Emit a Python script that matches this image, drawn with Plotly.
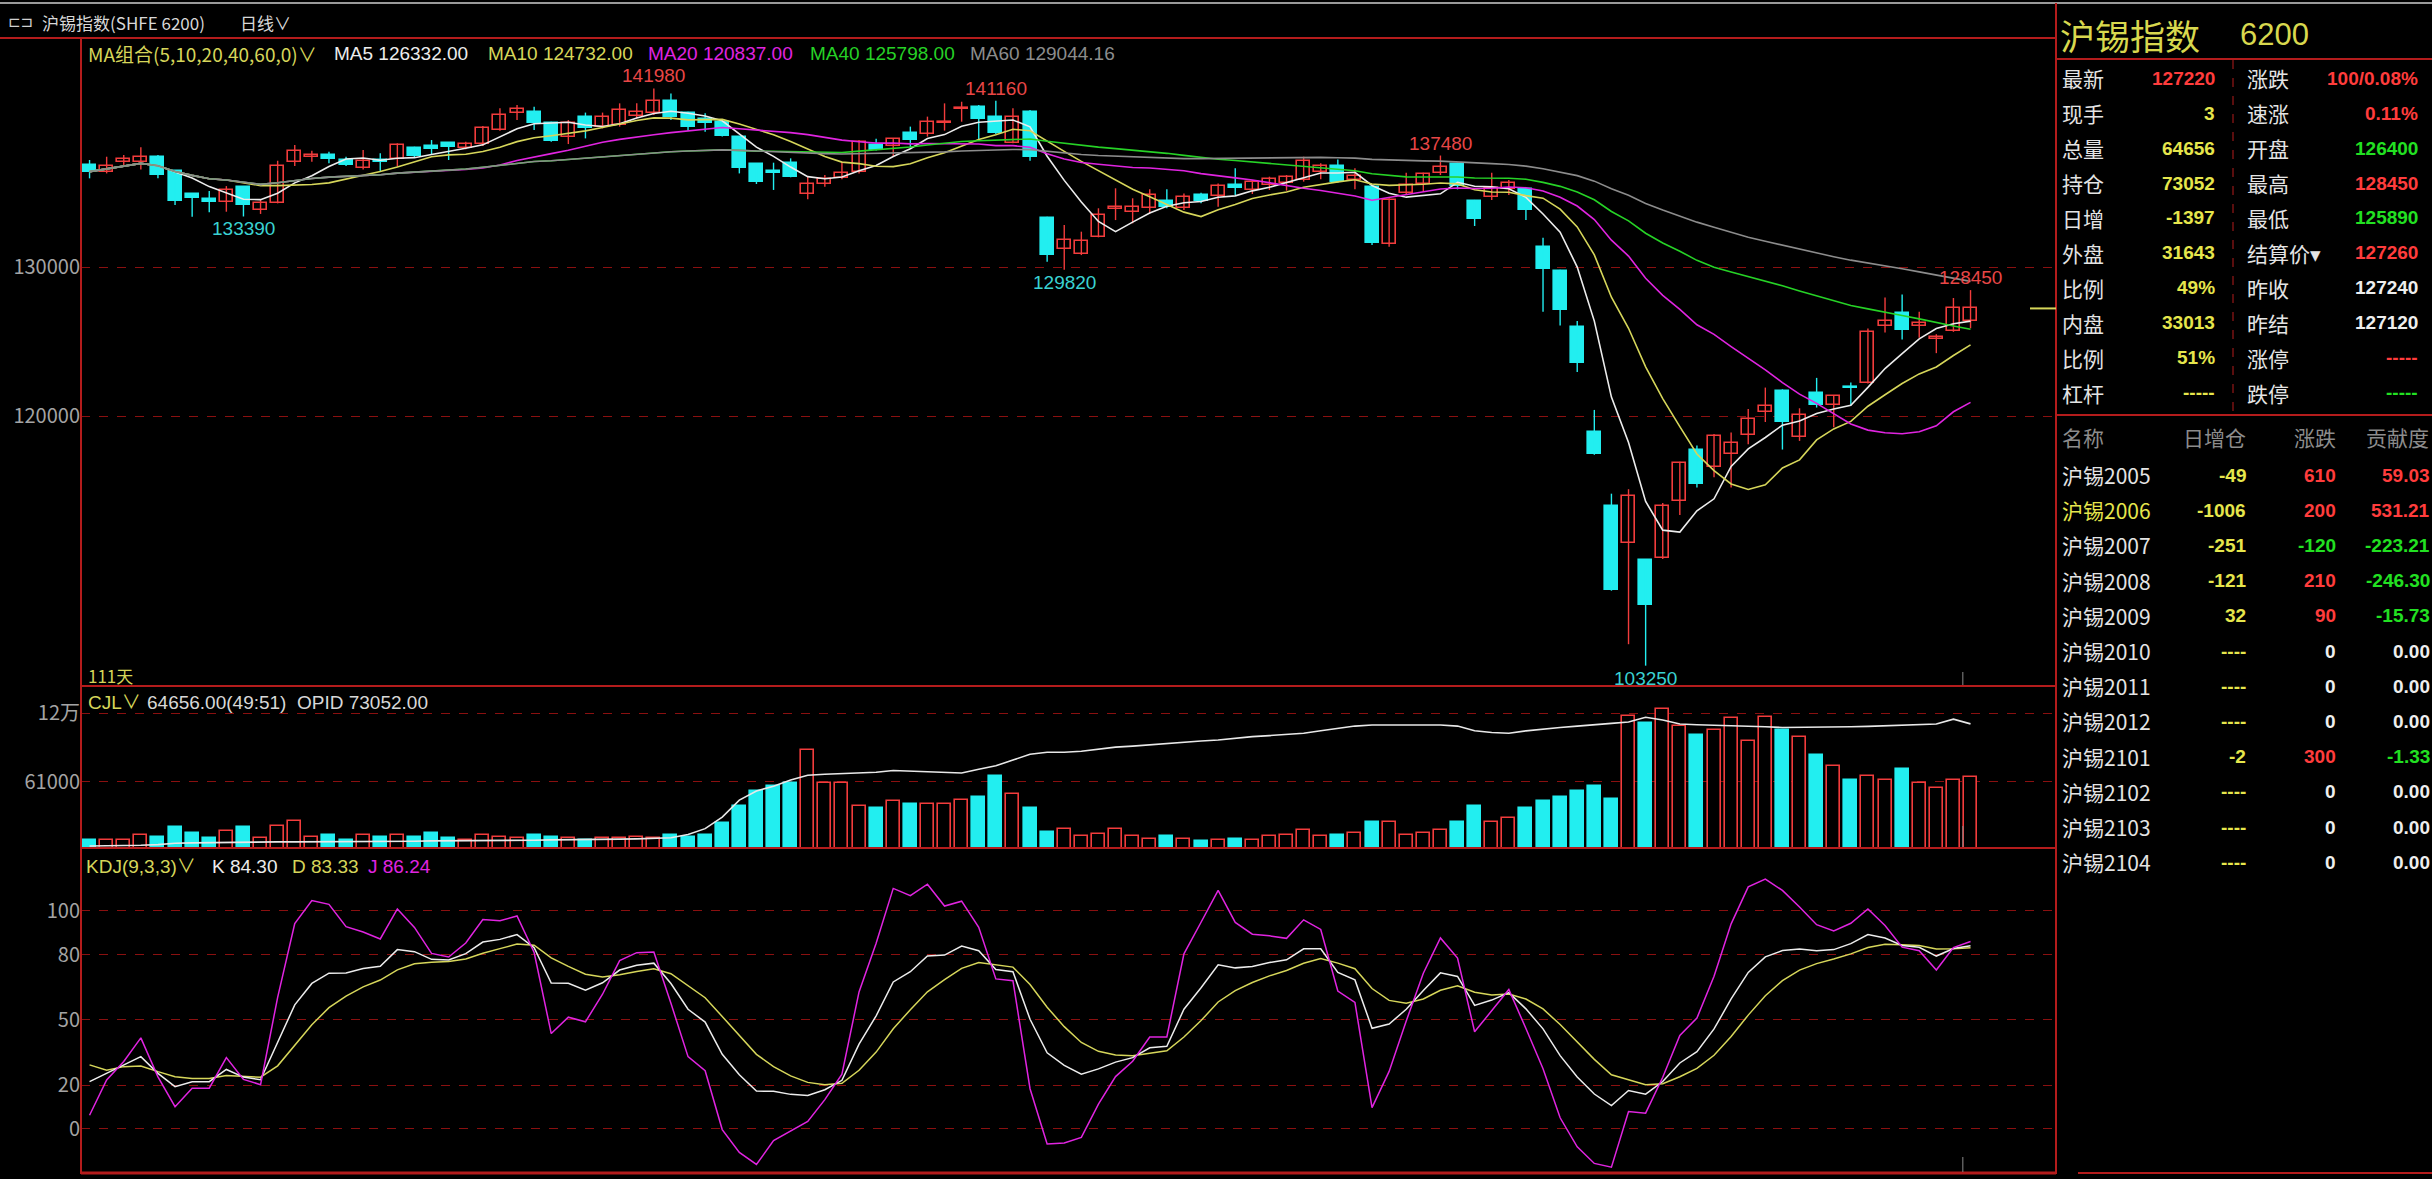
import plotly.graph_objects as go
import numpy as np
import pandas as pd

W, H = 2432, 1179

# ---------------- data ----------------
opens = [
    136840, 136400, 137070, 137070, 137400, 136440, 134880, 134540, 134380, 135390,
    133820, 134320, 137070, 137380, 137540, 137180, 136620, 137180, 137220, 137960,
    138120, 138300, 138010, 138230, 139190, 140310, 140420, 139640, 138750, 140090,
    139420, 139530, 140130, 140310, 141160, 140310, 139910, 139750, 138700, 136890,
    136440, 137000, 134900, 135570, 135950, 136400, 138190, 138120, 138970, 138920,
    139640, 140580, 140760, 140090, 138340, 140420, 133260, 131180, 130870, 132030,
    133870, 133710, 133940, 134450, 133940, 134830, 134760, 135500, 135170, 135500,
    135610, 135840, 136400, 136780, 135840, 135350, 131540, 134990, 135570, 136290,
    136910, 134450, 134670, 135210, 135210, 131310, 129760, 125950, 118900, 113940,
    111510, 110310, 110470, 114330, 117700, 116550, 117470, 118720, 120240, 121680,
    118560, 121560, 120710, 121950, 122250, 126020, 126920, 126020, 125190, 125720,
    126400]
highs = [
    137180, 137400, 137520, 138030, 137520, 136510, 134940, 135100, 135430, 135430,
    134500, 137130, 138190, 137800, 137740, 137400, 137850, 137630, 138300, 138070,
    138520, 138340, 138410, 139460, 140650, 140870, 140760, 139750, 139860, 140360,
    140360, 140980, 140980, 141980, 141650, 140420, 140310, 139910, 138790, 136960,
    137000, 137290, 136060, 136170, 137070, 138520, 138610, 138630, 139420, 140090,
    140980, 141090, 140870, 141160, 140650, 140540, 133380, 132820, 132370, 133940,
    135280, 134610, 135210, 135210, 134940, 134990, 135610, 136620, 135840, 136060,
    136170, 137400, 136960, 137220, 136620, 135440, 134610, 136330, 136330, 137480,
    137000, 134500, 136330, 135840, 135280, 131960, 129810, 126370, 120410, 114790,
    115090, 110360, 114170, 116940, 118030, 118790, 118900, 120480, 121910, 121790,
    120520, 122560, 121400, 122250, 125880, 127960, 128150, 126990, 125490, 127920,
    128450]
lows = [
    135950, 136280, 136730, 136550, 135950, 134160, 133380, 133670, 133710, 133390,
    133560, 134270, 136780, 137070, 136960, 136780, 136550, 136400, 136730, 137360,
    137520, 137180, 137900, 138120, 139150, 139860, 139190, 138410, 138250, 138630,
    139300, 139420, 139980, 140200, 139860, 139150, 139080, 138750, 136280, 135570,
    135170, 136020, 134540, 135390, 135880, 136280, 137810, 137400, 138030, 138750,
    139150, 139750, 138520, 138920, 138300, 137130, 130360, 129820, 130800, 131990,
    133150, 132930, 133600, 133940, 133820, 134270, 134050, 134830, 134900, 135170,
    135120, 135730, 135880, 135660, 135210, 131480, 131360, 134830, 135050, 136170,
    135210, 132750, 134500, 134830, 133150, 126990, 126070, 122950, 117400, 108280,
    104690, 103250, 110400, 113360, 115210, 115900, 115210, 118100, 119600, 117750,
    118330, 120570, 119250, 120710, 122190, 125610, 125140, 125260, 124220, 125650,
    125890]
closes = [
    136400, 136780, 137220, 137400, 136170, 134450, 134610, 134340, 135170, 134160,
    134320, 136780, 137800, 137540, 137270, 136840, 137110, 137070, 138190, 137470,
    137900, 138030, 138230, 139350, 140200, 140580, 139680, 138450, 139640, 139300,
    140090, 140540, 140420, 141160, 140040, 139420, 139640, 138790, 136620, 135730,
    136330, 136060, 135570, 135900, 136330, 138410, 137850, 138570, 138520, 139750,
    139730, 140650, 139910, 139010, 140040, 137400, 130800, 131810, 131770, 133490,
    134000, 134000, 134830, 134050, 134670, 134430, 135440, 135280, 135730, 135880,
    136020, 137140, 136780, 135730, 136110, 131590, 134500, 135500, 136240, 136730,
    135440, 133200, 135280, 135610, 133820, 129880, 127110, 123570, 117470, 108320,
    114630, 107350, 113940, 116830, 115440, 118670, 118210, 119830, 120640, 119600,
    120060, 120750, 121330, 121860, 125610, 126370, 125790, 126250, 125330, 127240,
    127220]
volumes = [
    10700, 10700, 10700, 15000, 13500, 22200, 16700, 12400, 18700, 22200,
    12400, 23000, 27100, 13500, 15000, 10700, 15000, 13500, 15000, 13500,
    16700, 12400, 10700, 15000, 13500, 12400, 15000, 13500, 12400, 10700,
    12400, 12400, 13500, 12400, 15000, 13500, 15000, 25000, 40000, 53000,
    57000, 60000, 88000, 60000, 60000, 40000, 38000, 44000, 42000, 42000,
    42000, 45000, 48000, 66000, 50000, 38000, 18000, 20000, 14000, 16000,
    20000, 14000, 12000, 14000, 12000, 10000, 11000, 12000, 11000, 14000,
    15000, 19000, 14000, 15000, 17000, 26000, 26000, 15000, 17000, 19000,
    26000, 40000, 26000, 30000, 38000, 44000, 48000, 53000, 57000, 46000,
    118000, 112000, 124000, 109000, 101000, 106000, 116000, 96000, 117000, 106000,
    100000, 84000, 74500, 62500, 66000, 62500, 71700, 59800, 55600, 62500,
    64656]
open_interest = [
    37100, 37100, 37200, 37300, 37500, 37900, 38000, 38100, 38100, 38200,
    38200, 38300, 38300, 38300, 38400, 38400, 38400, 38500, 38500, 38500,
    38600, 38600, 38600, 38700, 38700, 38800, 38800, 38900, 38900, 39000,
    39000, 39100, 39200, 39300, 39500, 40500, 42200, 45600, 50600, 53300,
    54700, 56500, 57900, 58200, 58400, 58500, 58800, 59300, 59100, 59000,
    58700, 58600, 59700, 60700, 62400, 64100, 64700, 64700, 65000, 65600,
    66200, 66500, 66900, 67400, 67700, 68000, 68300, 68900, 69300, 69600,
    69900, 70300, 71000, 71800, 72400, 72700, 72700, 72700, 72800, 72700,
    72400, 71000, 70500, 70300, 71000, 71600, 72000, 72400, 72700, 73200,
    73600, 75000, 74200, 73000, 72800, 72700, 72600, 72400, 72200, 72000,
    72000, 72100, 72100, 72200, 72300, 72500, 72600, 72800, 73000, 74449,
    73052]

ma_periods = [5, 10, 20, 40, 60]
ma_header_values = ["126332.00", "124732.00", "120837.00", "125798.00", "129044.16"]
# K and D for the first 8 days (their 9-day window reaches before the visible data)
kdj_head_k = [21.7, 25.5, 29.4, 33.2, 25.5, 19.4, 21.7, 21.7]
kdj_head_d = [29.4, 27.0, 28.6, 28.9, 26.3, 24.0, 23.2, 23.2]
kdj_header_values = ["84.30", "83.33", "86.24"]
cjl_header = "64656.00(49:51)  OPID 73052.00"

high_label_idx = [33, 53, 79, 110]
low_label_idx = [9, 57, 91]

price_ticks = [120000, 130000]
vol_ticks = [61000, 120000]
vol_ticktext = ["61000", "12万"]
kdj_ticks = [0, 20, 50, 80, 100]

quote_title = ["沪锡指数", "6200"]
quote_left_labels = ["最新", "现手", "总量", "持仓", "日增", "外盘", "比例", "内盘", "比例", "杠杆"]
quote_left_values = ["127220", "3", "64656", "73052", "-1397", "31643", "49%", "33013", "51%", "-----"]
quote_left_colors = ["red", "yellow", "yellow", "yellow", "yellow", "yellow", "yellow", "yellow", "yellow", "yellow"]
quote_right_labels = ["涨跌", "速涨", "开盘", "最高", "最低", "结算价▾", "昨收", "昨结", "涨停", "跌停"]
quote_right_values = ["100/0.08%", "0.11%", "126400", "128450", "125890", "127260", "127240", "127120", "-----", "-----"]
quote_right_colors = ["red", "red", "green", "red", "green", "red", "white", "white", "red", "green"]

table_header = ["名称", "日增仓", "涨跌", "贡献度"]
table_names = ["沪锡2005", "沪锡2006", "沪锡2007", "沪锡2008", "沪锡2009", "沪锡2010",
               "沪锡2011", "沪锡2012", "沪锡2101", "沪锡2102", "沪锡2103", "沪锡2104"]
table_oi_change = ["-49", "-1006", "-251", "-121", "32", "----", "----", "----", "-2", "----", "----", "----"]
table_change = ["610", "200", "-120", "210", "90", "0", "0", "0", "300", "0", "0", "0"]
table_contrib = ["59.03", "531.21", "-223.21", "-246.30", "-15.73", "0.00", "0.00", "0.00", "-1.33", "0.00", "0.00", "0.00"]

# ---------------- styles ----------------
RED = "#f23c3c"
CYAN = "#22eef0"
GRID = "#8a1010"
BORDER = "#b41c1c"
COL = {"red": "#ff3c3c", "yellow": "#e6e64c", "green": "#22e022", "white": "#eeeeee"}
MA_COLORS = ["#ececec", "#d6d65a", "#e024e0", "#26d226", "#8c8c8c"]
FONT = "Liberation Sans, Noto Sans CJK SC, sans-serif"
CJK = "Noto Sans CJK SC, Liberation Sans, sans-serif"

n = len(closes)
x = list(range(n))
up = [closes[i] >= opens[i] for i in x]

fig = go.Figure()

# ---------------- candles ----------------
for is_up, color in [(True, RED), (False, CYAN)]:
    wx, wy = [], []
    for i in x:
        if up[i] == is_up:
            wx += [i, i, None]
            wy += [lows[i], highs[i], None]
    fig.add_trace(go.Scatter(x=wx, y=wy, mode="lines", line=dict(color=color, width=1.4),
                             xaxis="x", yaxis="y", hoverinfo="skip"))
    idx = [i for i in x if up[i] == is_up]
    base = [min(opens[i], closes[i]) for i in idx]
    hgt = [max(abs(closes[i] - opens[i]), 60) for i in idx]
    fig.add_trace(go.Bar(x=idx, y=hgt, base=base, width=0.76,
                         marker=dict(color="black" if is_up else color, line=dict(color=color, width=1.6)),
                         xaxis="x", yaxis="y"))

# moving averages
cs = pd.Series(closes, dtype=float)
for p, c in zip(ma_periods, MA_COLORS):
    fig.add_trace(go.Scatter(x=x, y=cs.rolling(p, min_periods=1).mean(), mode="lines",
                             line=dict(color=c, width=1.6), xaxis="x", yaxis="y"))

# high / low labels
for i in high_label_idx:
    fig.add_annotation(x=i, y=highs[i], xref="x", yref="y", text=str(highs[i]), showarrow=False,
                       yanchor="bottom", font=dict(color="#e84646", size=19, family=FONT))
for i in low_label_idx:
    fig.add_annotation(x=i, y=lows[i], xref="x", yref="y", text=str(lows[i]), showarrow=False,
                       yanchor="top", font=dict(color="#3ad2d2", size=19, family=FONT))

# ---------------- volume ----------------
for is_up, color in [(True, RED), (False, CYAN)]:
    idx = [i for i in x if up[i] == is_up]
    fig.add_trace(go.Bar(x=idx, y=[volumes[i] for i in idx], width=0.76,
                         marker=dict(color="black" if is_up else color, line=dict(color=color, width=1.6)),
                         xaxis="x2", yaxis="y2"))
fig.add_trace(go.Scatter(x=x, y=open_interest, mode="lines", line=dict(color="#e8e8e8", width=1.6),
                         xaxis="x2", yaxis="y4"))

# ---------------- KDJ ----------------
hh = pd.Series(highs, dtype=float).rolling(9, min_periods=1).max().values
ll = pd.Series(lows, dtype=float).rolling(9, min_periods=1).min().values
rsv = (np.array(closes) - ll) / (hh - ll) * 100
K = np.zeros(n)
D = np.zeros(n)
m = len(kdj_head_k)
K[:m] = kdj_head_k
D[:m] = kdj_head_d
for i in range(m, n):
    K[i] = (2 * K[i - 1] + rsv[i]) / 3
    D[i] = (2 * D[i - 1] + K[i]) / 3
J = 3 * K - 2 * D
for arr, c in [(D, "#d6d65a"), (K, "#ececec"), (J, "#e024e0")]:
    fig.add_trace(go.Scatter(x=x, y=arr, mode="lines", line=dict(color=c, width=1.5),
                             xaxis="x3", yaxis="y3"))

# ---------------- axes ----------------
def py(v):
    return 1 - v / H

xdom = [81 / W, 2055 / W]
xr = [-0.5, 114.94]
tickfont = dict(size=20, color="#a4a4a4", family=CJK)
yax_common = dict(showgrid=True, gridcolor=GRID, griddash="dash", gridwidth=1, zeroline=False,
                  showline=False, ticks="", tickfont=tickfont, automargin=False, fixedrange=True)
fig.update_layout(
    width=W, height=H, margin=dict(l=0, r=0, t=0, b=0),
    paper_bgcolor="black", plot_bgcolor="black", showlegend=False, barmode="overlay",
    bargap=0,
    xaxis=dict(domain=xdom, range=xr, visible=False, anchor="y"),
    xaxis2=dict(domain=xdom, range=xr, visible=False, anchor="y2", matches="x"),
    xaxis3=dict(domain=xdom, range=xr, visible=False, anchor="y3", matches="x"),
    yaxis=dict(domain=[py(686), py(38)], range=[101885, 145366], tickvals=price_ticks,
               ticktext=[str(v) for v in price_ticks], anchor="x", **yax_common),
    yaxis2=dict(domain=[py(848), py(686)], range=[3800, 143600], tickvals=vol_ticks,
                ticktext=vol_ticktext, anchor="x2", **yax_common),
    yaxis3=dict(domain=[py(1173), py(848)], range=[-20.2, 128.9], tickvals=kdj_ticks,
                ticktext=[str(v) for v in kdj_ticks], anchor="x3", **yax_common),
    yaxis4=dict(domain=[py(848), py(686)], range=[36500, 84200], overlaying="y2", visible=False,
                anchor="x2"),
)

# ---------------- frame lines ----------------
def hline(y0, xa, xb, color=BORDER, width=2, dash=None):
    fig.add_shape(type="line", xref="paper", yref="paper", x0=xa / W, x1=xb / W, y0=py(y0), y1=py(y0),
                  line=dict(color=color, width=width, dash=dash))

def vline(x0, ya, yb, color=BORDER, width=2, dash=None):
    fig.add_shape(type="line", xref="paper", yref="paper", x0=x0 / W, x1=x0 / W, y0=py(ya), y1=py(yb),
                  line=dict(color=color, width=width, dash=dash))

hline(3, 0, W, color="#9a9a9a", width=2)
hline(38, 0, 2056)
hline(686, 81, 2056)
hline(848, 81, 2056)
hline(1173, 81, 2056, width=3)
vline(81, 38, 1174)
vline(2056, 3, 1174)
hline(59, 2056, W)
hline(415, 2056, W)
vline(2233, 60, 414, dash="dash", width=1)
hline(1173, 2078, W, width=2)

# current price marker
fig.add_shape(type="line", xref="paper", yref="y", x0=2030 / W, x1=2056 / W, y0=closes[-1], y1=closes[-1],
              line=dict(color="#d6d65a", width=2))
# cursor tick marks
for (ya, yb) in [(672, 685), (826, 847), (1157, 1172)]:
    fig.add_shape(type="line", xref="x", yref="paper", x0=109.55, x1=109.55, y0=py(ya), y1=py(yb),
                  line=dict(color="#8a8a8a", width=1))

# ---------------- texts ----------------
def txt(xp, yp, s, color, size, anchor="left", family=FONT):
    fig.add_annotation(x=xp / W, y=py(yp), xref="paper", yref="paper", text=s, showarrow=False,
                       xanchor=anchor, yanchor="middle", font=dict(color=color, size=size, family=family))

txt(6, 22, "⊏⊐", "#d0d0d0", 15, family="DejaVu Sans")
txt(40, 22, "沪锡指数(SHFE 6200)", "#d8d8d8", 17, family=CJK)
txt(238, 22, "日线∨", "#d8d8d8", 17, family=CJK)

txt(86, 53, "MA组合(5,10,20,40,60,0)∨", "#d6d65a", 19, family=CJK)
ma_x = [332, 486, 646, 808, 968]
for p, v, c, xx in zip(ma_periods, ma_header_values, MA_COLORS, ma_x):
    txt(xx, 53, f"MA{p} {v}", c, 19)

txt(86, 675, f"{n}天", "#d6d65a", 17, family=CJK)
txt(86, 702, "CJL∨", "#d6d65a", 19)
txt(145, 702, cjl_header, "#d8d8d8", 19)
txt(84, 866, "KDJ(9,3,3)∨", "#d6d65a", 19)
txt(210, 866, f"K {kdj_header_values[0]}", "#ececec", 19)
txt(290, 866, f"D {kdj_header_values[1]}", "#d6d65a", 19)
txt(366, 866, f"J {kdj_header_values[2]}", "#e024e0", 19)

# right quote panel
txt(2058, 34, quote_title[0], "#d8d84e", 35, family=CJK)
txt(2238, 34, quote_title[1], "#d8d84e", 31, family=FONT)
for k in range(len(quote_left_labels)):
    yy = 78 + 35 * k
    txt(2060, yy, quote_left_labels[k], "#e4e4e4", 21, family=CJK)
    txt(2217, yy, f"<b>{quote_left_values[k]}</b>", COL[quote_left_colors[k]], 19, anchor="right")
    txt(2245, yy, quote_right_labels[k], "#e4e4e4", 21, family=CJK)
    txt(2420, yy, f"<b>{quote_right_values[k]}</b>", COL[quote_right_colors[k]], 19, anchor="right")

txt(2060, 437, table_header[0], "#8c8c8c", 21, family=CJK)
txt(2248, 437, table_header[1], "#8c8c8c", 21, anchor="right", family=CJK)
txt(2338, 437, table_header[2], "#8c8c8c", 21, anchor="right", family=CJK)
txt(2431, 437, table_header[3], "#8c8c8c", 21, anchor="right", family=CJK)

def num_color(s):
    try:
        v = float(s)
    except ValueError:
        return COL["white"]
    return COL["red"] if v > 0 else (COL["green"] if v < 0 else COL["white"])

for k in range(len(table_names)):
    yy = 475 + 35.2 * k
    name_col = COL["yellow"] if k == 1 else "#e4e4e4"
    txt(2060, yy, table_names[k], name_col, 21, family=CJK)
    txt(2248, yy, f"<b>{table_oi_change[k]}</b>", COL["yellow"], 19, anchor="right")
    txt(2338, yy, f"<b>{table_change[k]}</b>", num_color(table_change[k]), 19, anchor="right")
    txt(2432, yy, f"<b>{table_contrib[k]}</b>", num_color(table_contrib[k]), 19, anchor="right")

fig.write_html("out.html", config={"displayModeBar": False},
               post_script="document.body.style.margin='0';document.body.style.overflow='hidden';")
